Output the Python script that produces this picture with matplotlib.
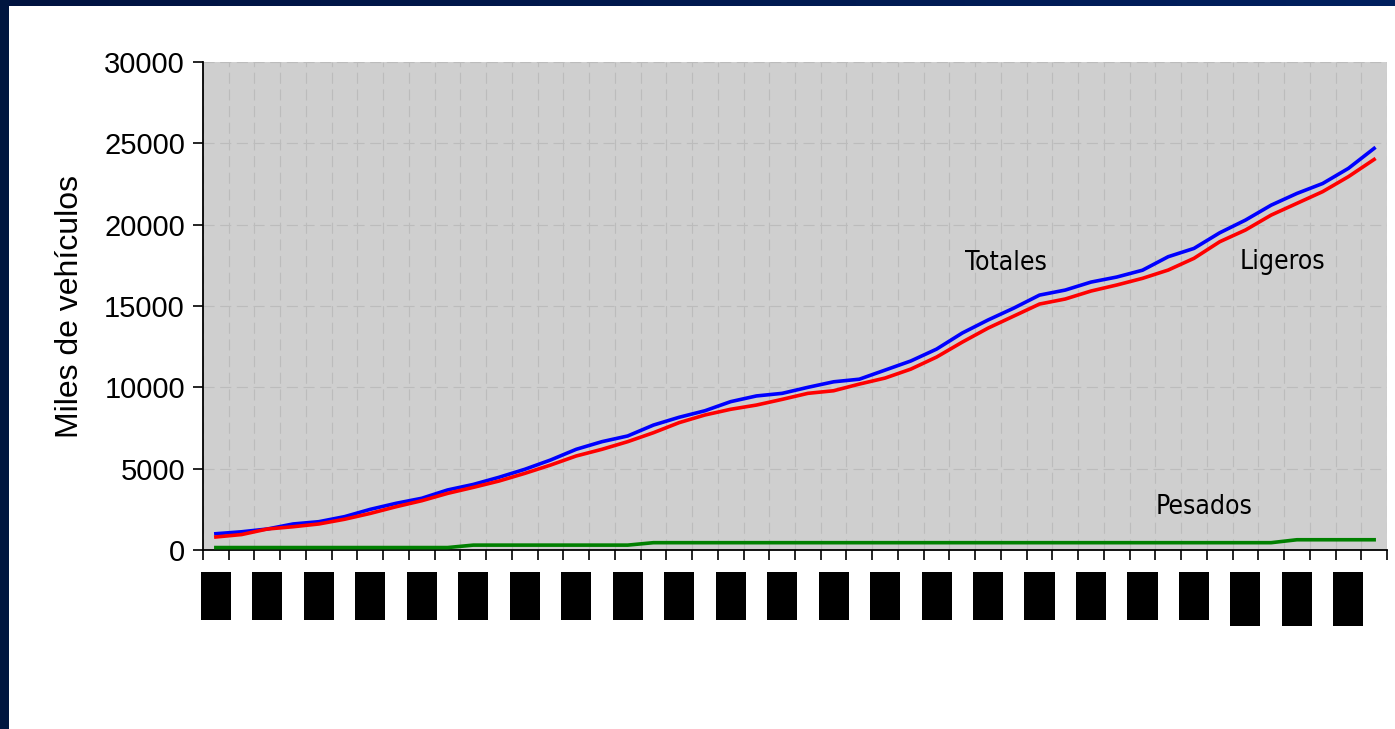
import numpy as np
import matplotlib.pyplot as plt
import matplotlib.transforms as mtransforms
from matplotlib.patches import Rectangle
from matplotlib.colors import LinearSegmentedColormap

# miles de vehiculos, una entrada por año (46 años)
totales = [1000, 1120, 1290, 1600, 1740, 2050, 2500, 2870, 3180, 3690,
           4030, 4470, 4960, 5530, 6190, 6660, 7010, 7680, 8160, 8560,
           9120, 9470, 9630, 10000, 10340, 10500, 11060, 11620, 12350, 13340,
           14140, 14870, 15670, 15980, 16470, 16780, 17200, 18030, 18540, 19500,
           20280, 21200, 21920, 22530, 23460, 24690]
ligeros = [800, 950, 1290, 1430, 1600, 1890, 2250, 2660, 3030, 3480,
           3850, 4240, 4710, 5220, 5780, 6190, 6660, 7210, 7830, 8300,
           8650, 8910, 9260, 9630, 9790, 10200, 10570, 11120, 11860, 12780,
           13640, 14380, 15120, 15430, 15920, 16290, 16700, 17210, 17930, 18950,
           19670, 20590, 21310, 22030, 22950, 24010]
pesados = [150] * 10 + [300] * 7 + [450] * 25 + [630] * 4

n = len(totales)
x = np.arange(n)

fig = plt.figure(figsize=(13.95, 7.29), dpi=100)
fig.patch.set_facecolor('white')

# marco azul oscuro arriba y a la izquierda
top = fig.add_axes([0, 1 - 6 / 729, 1, 6 / 729])
grad = np.linspace(0, 1, 256).reshape(1, -1)
cmap = LinearSegmentedColormap.from_list('marco', ['#001340', '#00205f'])
top.imshow(grad, aspect='auto', cmap=cmap)
top.axis('off')
fig.patches.append(Rectangle((0, 0), 9 / 1395, 1, transform=fig.transFigure,
                             facecolor='#00163f', edgecolor='none'))

ax = fig.add_axes([203 / 1395, 179 / 729, 1184 / 1395, 488 / 729])
ax.set_facecolor('#cfcfcf')

ax.plot(x, totales, color='#0000ff', lw=2.6, zorder=3)
ax.plot(x, ligeros, color='#ff0000', lw=2.6, zorder=3)
ax.plot(x, pesados, color='#008000', lw=2.6, zorder=3)

ax.set_xlim(-0.5, n - 0.5)
ax.set_ylim(0, 30000)
ax.set_yticks(np.arange(0, 30001, 5000))
ax.set_xticks(np.arange(-0.5, n, 1))
ax.set_xticklabels([])

ax.grid(True, color='#bcbcbc', lw=0.8, linestyle=(0, (10, 5)), zorder=1)
ax.set_axisbelow(True)

for s in ['top', 'right']:
    ax.spines[s].set_visible(False)
for s in ['left', 'bottom']:
    ax.spines[s].set_linewidth(1.3)
ax.tick_params(axis='both', direction='out', length=7, width=1.2, colors='black')
ax.tick_params(axis='y', labelsize=21, pad=6)
for lab in ax.get_yticklabels():
    lab.set_family(['Liberation Sans', 'DejaVu Sans'])

ax.set_ylabel('Miles de vehículos', fontsize=23, family=['Liberation Sans', 'DejaVu Sans'], labelpad=14)

ax.text(30.7, 17640, 'Totales', fontsize=19, family='DejaVu Sans', fontstretch='condensed',
        ha='center', va='center')
ax.text(41.45, 17700, 'Ligeros', fontsize=19, family='DejaVu Sans', fontstretch='condensed',
        ha='center', va='center')
ax.text(38.4, 2640, 'Pesados', fontsize=19, family='DejaVu Sans', fontstretch='condensed',
        ha='center', va='center')

# etiquetas de los años tapadas con bloques negros
trans = mtransforms.blended_transform_factory(ax.transData, ax.transAxes)
for i in range(0, n, 2):
    h = 0.111 if i >= 40 else 0.098
    ax.add_patch(Rectangle((i - 0.585, -0.045 - h), 1.17, h, transform=trans,
                           facecolor='black', edgecolor='none', clip_on=False))

fig.savefig('out.png', dpi=100)
